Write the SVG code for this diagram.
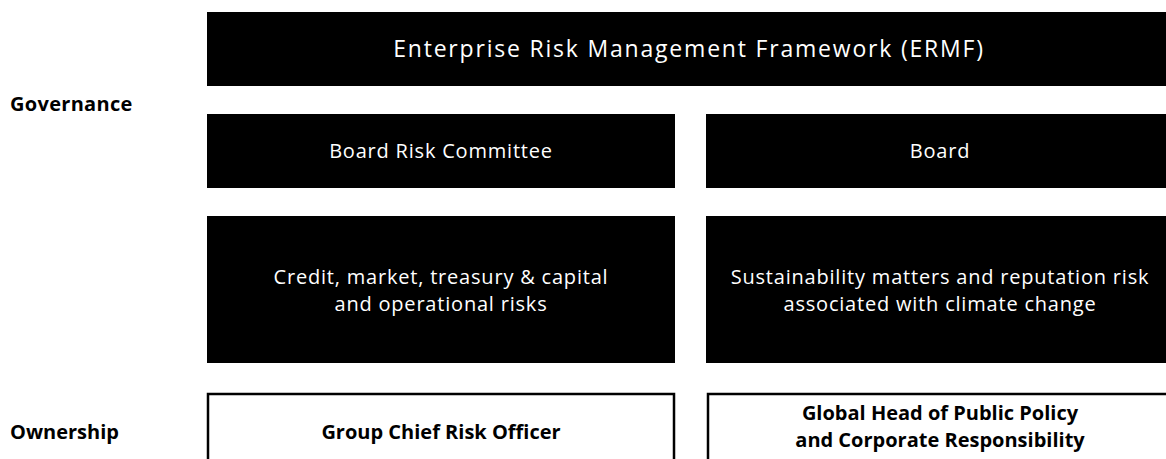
<svg xmlns="http://www.w3.org/2000/svg" width="1166" height="459" viewBox="0 0 1166 459">
<style>
.blk{fill:#000}
.out{fill:#fff;stroke:#000;stroke-width:2.5}
.t{font-family:"Open Sans","Liberation Sans",sans-serif;text-anchor:middle}
.w{fill:#fff;font-size:20px;letter-spacing:0.8px}
.h{fill:#000;font-weight:700;font-size:20px}
.lab{font-family:"Open Sans","Liberation Sans",sans-serif;font-weight:700;font-size:20px;fill:#000}
</style>
<rect width="1166" height="459" fill="#fff"/>
<text class="lab" x="10" y="111" style="letter-spacing:0.3px">Governance</text>
<text class="lab" x="10" y="439">Ownership</text>
<g id="ermf"><rect class="blk" x="207" y="12" width="962" height="74"/><text class="t w" x="689" y="57" style="font-size:23px;letter-spacing:1.8px">Enterprise Risk Management Framework (ERMF)</text></g>
<g id="brc"><rect class="blk" x="207" y="114" width="468" height="74"/><text class="t w" x="441" y="158">Board Risk Committee</text></g>
<g id="board"><rect class="blk" x="706" y="114" width="463" height="74"/><text class="t w" x="940" y="158">Board</text></g>
<g id="credit"><rect class="blk" x="207" y="216" width="468" height="147"/><text class="t w" x="441" y="284">Credit, market, treasury &amp; capital</text><text class="t w" x="441" y="311">and operational risks</text></g>
<g id="sust"><rect class="blk" x="706" y="216" width="463" height="147"/><text class="t w" x="940" y="284">Sustainability matters and reputation risk</text><text class="t w" x="940" y="311">associated with climate change</text></g>
<g id="gcro"><rect class="out" x="208" y="394" width="466" height="80"/><text class="t h" x="441" y="439">Group Chief Risk Officer</text></g>
<g id="ghpp"><rect class="out" x="708" y="394" width="470" height="80"/><text class="t h" x="940" y="420">Global Head of Public Policy</text><text class="t h" x="940" y="447">and Corporate Responsibility</text></g>
<g id="connectors"></g>
</svg>
